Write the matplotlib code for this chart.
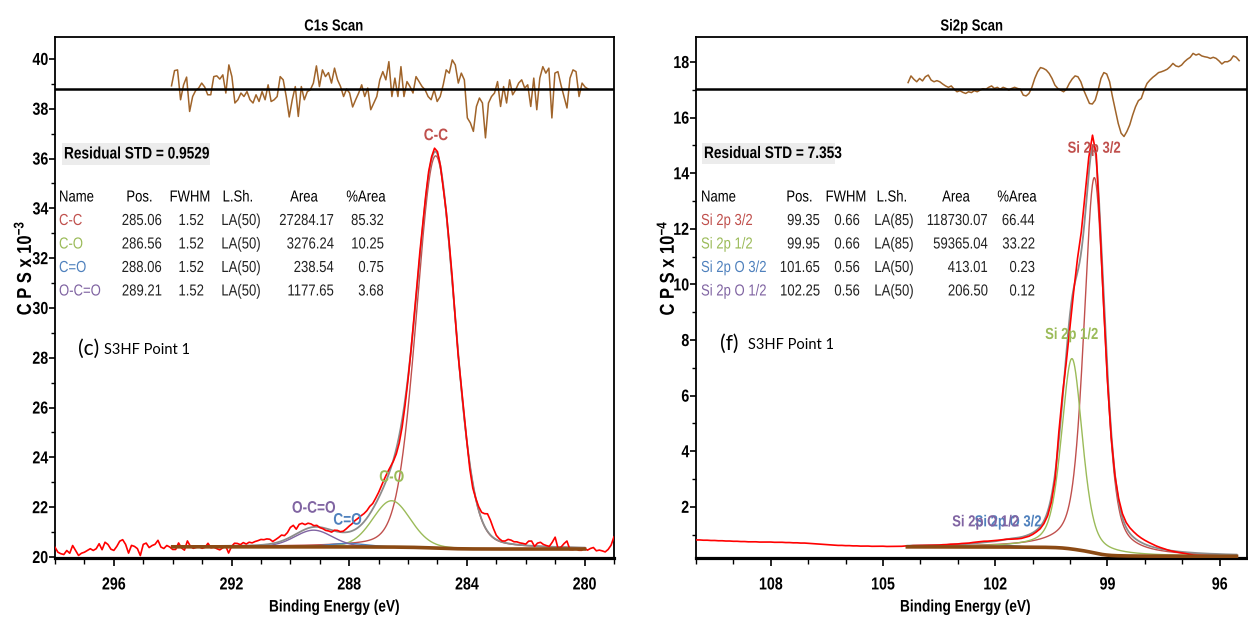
import numpy as np
import matplotlib
matplotlib.use("Agg")
import matplotlib.pyplot as plt
from matplotlib import font_manager
from matplotlib.patches import Rectangle
from matplotlib.patheffects import AbstractPathEffect
from matplotlib.transforms import Affine2D
from matplotlib.ticker import MultipleLocator

W, H = 1248, 619

# ── C1s fit (table values + peak heights, CPS x 1e-3) ──
c1s_names = ["C-C", "C-O", "C=O", "O-C=O"]
c1s_pos = [285.06, 286.56, 288.06, 289.21]
c1s_fwhm = [1.52, 1.52, 1.52, 1.52]
c1s_lsh = ["LA(50)", "LA(50)", "LA(50)", "LA(50)"]
c1s_area = [27284.17, 3276.24, 238.54, 1177.65]
c1s_pct = [85.32, 10.25, 0.75, 3.68]
c1s_height = [15.75, 1.86, 0.14, 0.67]
c1s_label_y = [36.92, 23.2, 21.48, 21.96]
c1s_region = (294.0, 280.0)
c1s_bg_ends = (20.41, 20.32)
c1s_zero = 38.8
c1s_std = "0.9529"

# measured spectrum minus fit envelope, 298.0 -> 279.0 eV in 0.1 eV steps
c1s_raw_minus_fit = [
    -0.03, -0.23, -0.29, -0.32, -0.16, -0.27, 0.04, -0.16, -0.36, -0.27,
    -0.23, -0.16, -0.09, -0.16, -0.09, 0.11, -0.13, 0.17, 0.08, -0.11,
    -0.16, 0.00, 0.21, 0.27, 0.08, -0.27, 0.04, 0.00, -0.09, -0.37,
    0.08, 0.13, -0.05, 0.03, 0.08, 0.24, -0.03, -0.09, 0.03, -0.03,
    -0.13, -0.13, 0.13, -0.07, -0.16, 0.21, 0.00, -0.09, -0.05, -0.03,
    -0.09, -0.05, 0.11, -0.07, -0.05, -0.11, -0.16, -0.08, 0.00, -0.29,
    -0.03, 0.10, 0.09, 0.04, 0.12, 0.06, 0.13, 0.10, 0.15, 0.18,
    0.22, 0.20, 0.22, 0.19, 0.08, 0.13, 0.18, 0.24, 0.17, 0.24,
    0.39, 0.41, 0.19, 0.32, 0.30, 0.19, 0.20, 0.14, 0.05, 0.06,
    -0.02, -0.04, -0.08, -0.07, -0.08, 0.03, 0.05, 0.02, 0.05, 0.14,
    0.23, 0.29, 0.36, 0.37, 0.37, 0.33, 0.30, 0.30, 0.22, 0.22,
    0.22, 0.25, 0.25, 0.21, 0.10, -0.05, -0.20, -0.30, -0.30, -0.20,
    -0.10, 0.00, 0.10, 0.15, 0.20, 0.10, 0.10, 0.15, 0.10, 0.15,
    0.10, 0.00, -0.10, 0.05, 0.10, 0.15, 0.00, -0.10, 0.05, 0.10,
    0.00, -0.20, -0.20, 0.00, 0.14, 0.28, 0.50, 0.70, 0.59, 0.37,
    0.17, 0.09, 0.04, 0.07, 0.16, 0.15, 0.10, 0.11, 0.08, 0.07,
    0.05, 0.18, 0.19, -0.02, 0.12, 0.16, 0.08, 0.04, 0.01, 0.18,
    0.39, -0.07, 0.00, 0.14, 0.25, -0.09, -0.09, -0.05, -0.11, -0.11,
    -0.03, -0.10, -0.03, 0.01, -0.12, -0.09, -0.12, -0.16, -0.06, 0.11,
    0.45,
]
c1s_raw_span = (298.0, 279.0)

# residual trace (top strip), 294.04 -> 279.88 eV
c1s_resid = [
    0.12, 0.73, 0.76, -0.44, 0.16, 0.47, -0.91, -0.31, -0.07, 0.03,
    0.23, 0.07, -0.24, -0.24, 0.49, 0.52, 0.39, 0.56, -0.17, 0.96,
    0.49, -0.57, -0.44, -0.17, -0.31, -0.11, -0.44, -0.57, -0.24, -0.51,
    -0.11, -0.44, 0.16, -0.51, -0.44, -0.31, 0.49, 0.36, -0.31, -1.13,
    -0.44, 0.09, -1.11, 0.09, -0.44, -0.11, -0.04, 0.23, 0.92, 0.09,
    0.76, 0.49, 0.65, 0.23, 0.83, 0.36, 0.09, -0.31, -0.01, -0.17,
    -0.73, -0.44, -0.17, 0.16, -0.31, 0.03, -0.84, -0.57, -0.31, 0.36,
    0.69, 0.36, 1.09, -0.31, 0.43, -0.31, 0.89, -0.31, 0.29, 0.09,
    -0.17, 0.49, 0.29, 0.09, -0.04, -0.31, -0.44, -0.04, -0.51, -0.31,
    0.16, 0.76, 0.63, 1.16, 0.96, 0.23, 0.63, 0.36, -1.17, -1.37,
    -1.71, -0.71, -0.37, -0.57, -1.97, -0.57, -0.31, -0.17, 0.29, -0.71,
    0.09, -0.57, 0.36, -0.24, -0.04, 0.23, 0.36, 0.03, 0.16, -0.71,
    0.43, -0.84, 0.43, 0.89, 0.63, 0.83, -1.17, 0.63, 0.69, 0.16,
    -0.31, -0.77, 0.43, 0.76, 0.69, -0.31, 0.23, 0.07, -0.01,
]
c1s_resid_span = (294.04, 279.88)

# ── Si2p fit (CPS x 1e-4) ──
si_names = ["Si 2p 3/2", "Si 2p 1/2", "Si 2p O 3/2", "Si 2p O 1/2"]
si_pos = [99.35, 99.95, 101.65, 102.25]
si_fwhm = [0.66, 0.66, 0.56, 0.56]
si_lsh = ["LA(85)", "LA(85)", "LA(50)", "LA(50)"]
si_area = [118730.07, 59365.04, 413.01, 206.50]
si_pct = [66.44, 33.22, 0.23, 0.12]
si_height = [13.5, 6.85, 0.055, 0.028]
si_label_y = [14.9, 8.2, 1.46, 1.46]
si_region = (104.35, 95.55)
si_bg_ends = (0.56, 0.22)
si_zero = 17.03
si_std = "7.353"

# measured spectrum minus fit envelope, 110.0 -> 95.9 eV in 0.1 eV steps
si_raw_minus_fit = [
    0.24, 0.24, 0.23, 0.23, 0.22, 0.22, 0.21, 0.21, 0.20, 0.20,
    0.19, 0.19, 0.18, 0.18, 0.17, 0.17, 0.17, 0.16, 0.16, 0.16,
    0.16, 0.15, 0.15, 0.15, 0.14, 0.14, 0.13, 0.13, 0.12, 0.12,
    0.11, 0.10, 0.09, 0.08, 0.07, 0.06, 0.05, 0.04, 0.03, 0.03,
    0.02, 0.02, 0.01, 0.01, 0.00, 0.00, 0.00, -0.01, -0.01, -0.01,
    -0.01, -0.02, -0.02, -0.02, -0.02, -0.02, -0.01, -0.01, 0.00, 0.00,
    0.00, 0.00, 0.00, 0.00, 0.00, 0.00, 0.01, 0.01, 0.02, 0.02,
    0.02, 0.03, 0.03, 0.03, 0.04, 0.04, 0.04, 0.04, 0.03, 0.03,
    0.03, 0.02, 0.01, 0.00, -0.02, -0.03, -0.04, -0.05, -0.05, -0.06,
    -0.06, -0.06, -0.08, -0.10, -0.15, -0.20, -0.20, 0.30, 0.20, -0.30,
    -0.45, -0.10, 0.50, 0.70, 0.80, 0.60, 0.40, 0.20, -0.30, -0.40,
    -0.35, -0.20, -0.05, 0.10, 0.15, 0.18, 0.20, 0.20, 0.18, 0.16,
    0.14, 0.12, 0.10, 0.07, 0.05, 0.03, 0.01, -0.01, -0.02, -0.03,
    -0.04, -0.05, -0.07, -0.08, -0.08, -0.08, -0.08, -0.08, -0.08, -0.08,
    -0.08, -0.08,
]
si_raw_span = (110.0, 95.9)

si_resid = [
    0.23, 0.47, 0.35, 0.26, 0.38, 0.29, 0.44, 0.50, 0.32, 0.26,
    0.30, 0.26, 0.18, 0.11, 0.06, 0.11, -0.01, -0.10, -0.06, -0.12,
    -0.16, -0.10, -0.13, -0.06, -0.10, -0.04, 0.01, -0.01, 0.06, 0.11,
    0.02, 0.06, -0.01, 0.06, 0.02, -0.04, 0.02, 0.06, 0.02, -0.01,
    -0.22, -0.25, -0.16, 0.06, 0.38, 0.62, 0.77, 0.74, 0.68, 0.56,
    0.38, 0.14, 0.02, -0.04, -0.10, -0.01, 0.20, 0.36, 0.47, 0.44,
    0.26, -0.04, -0.28, -0.52, -0.54, -0.40, -0.04, 0.38, 0.59, 0.54,
    0.26, -0.28, -0.76, -1.24, -1.59, -1.71, -1.53, -1.29, -0.94, -0.64,
    -0.42, -0.34, -0.04, 0.20, 0.32, 0.42, 0.50, 0.59, 0.62, 0.66,
    0.71, 0.80, 0.92, 0.83, 0.80, 0.86, 0.98, 1.07, 1.14, 1.28,
    1.22, 1.26, 1.19, 1.16, 1.14, 1.10, 1.14, 1.10, 1.01, 0.90,
    0.98, 0.98, 1.04, 1.19, 1.14, 1.02,
]
si_resid_span = (104.33, 95.48)

comp_colors = ["#c0504d", "#9bbb59", "#4f81bd", "#8064a2"]


def pick(cands):
    for name in cands:
        try:
            font_manager.findfont(font_manager.FontProperties(family=name),
                                  fallback_to_default=False)
            return name
        except Exception:
            pass
    return "DejaVu Sans"


# no Arial Narrow here: Liberation Sans squeezed horizontally stands in for it
BASE = pick(["Liberation Sans", "Arimo", "DejaVu Sans"])
CAL = pick(["Lato", "Open Sans", "DejaVu Sans"])
SQ = 0.82
plt.rcParams["font.family"] = [BASE, "DejaVu Sans"]
plt.rcParams["mathtext.fontset"] = "custom"
plt.rcParams["mathtext.rm"] = BASE + ":bold"
plt.rcParams["mathtext.default"] = "rm"


class Squeeze(AbstractPathEffect):
    """Compress glyphs along the baseline, about the text anchor."""

    def __init__(self, sx=SQ, anchor="left"):
        super().__init__()
        self.sx, self.anchor = sx, anchor

    def draw_path(self, renderer, gc, tpath, affine, rgbFace=None):
        ext = tpath.get_extents()
        if self.anchor == "right":
            x0 = ext.x1
        elif self.anchor == "center":
            x0 = 0.5 * (ext.x0 + ext.x1)
        else:
            x0 = 0.0
        t = Affine2D().translate(-x0, 0).scale(self.sx, 1).translate(x0, 0)
        renderer.draw_path(gc, tpath, t + affine, rgbFace)


def peak(x, pos, fwhm, h, eta):
    u = (x - pos) / fwhm
    return h * ((1 - eta) * np.exp(-4 * np.log(2) * u ** 2) + eta / (1 + 4 * u ** 2))


def shirley(x, signal, b_hi, b_lo):
    # x runs from high to low binding energy
    xs, s = x[::-1], signal[::-1]
    cum = np.concatenate([[0], np.cumsum(0.5 * (s[1:] + s[:-1]) * np.diff(xs))])
    return (b_lo + (b_hi - b_lo) * cum / cum[-1])[::-1]


def draw_spectrum(ax, pos, fwhm, heights, eta, region, bg_ends, raw_span, raw_dev,
                  resid, resid_span, zero):
    x_fit = np.linspace(region[0], region[1], 1401)
    comps = [peak(x_fit, p, f, h, eta) for p, f, h in zip(pos, fwhm, heights)]
    total = np.sum(comps, axis=0)
    bg = shirley(x_fit, total, *bg_ends)

    raw_x = np.linspace(raw_span[0], raw_span[1], len(raw_dev))
    raw_fit = np.interp(raw_x, x_fit[::-1], bg[::-1])
    for p, f, h in zip(pos, fwhm, heights):
        raw_fit = raw_fit + peak(raw_x, p, f, h, eta)
    raw = raw_fit + np.array(raw_dev)

    for c, col in zip(comps, comp_colors):
        ax.plot(x_fit, bg + c, color=col, lw=1.0, zorder=2)
    ax.plot(x_fit, bg + total, color="#8c8c8c", lw=1.3, zorder=3)
    ax.plot(raw_x, raw, color="#ff0000", lw=1.2, zorder=4)
    ax.plot(x_fit, bg, color="#8b4a14", lw=2.6, zorder=5)

    rx = np.linspace(resid_span[0], resid_span[1], len(resid))
    ax.plot(rx, zero + np.array(resid), color="#a0642a", lw=1.1, zorder=3)
    ax.axhline(zero, color="black", lw=1.8, zorder=6)


def style_axes(ax, xlim, ylim, xmaj, ymaj):
    ax.set_xlim(*xlim)
    ax.set_ylim(*ylim)
    ax.xaxis.set_major_locator(MultipleLocator(xmaj))
    ax.xaxis.set_minor_locator(MultipleLocator(1))
    ax.yaxis.set_major_locator(MultipleLocator(ymaj))
    ax.yaxis.set_minor_locator(MultipleLocator(1))
    for s in ["left", "top", "right"]:
        ax.spines[s].set_linewidth(1.3)
    ax.spines["bottom"].set_linewidth(2.3)
    ax.tick_params(axis="x", which="major", direction="out", length=5.5, width=1.2,
                   labelsize=12.5, pad=8.5)
    ax.tick_params(axis="x", which="minor", direction="out", length=4.5, width=1.0)
    ax.tick_params(axis="y", which="major", direction="out", length=4.5, width=1.2,
                   labelsize=12.5, pad=0.3)
    ax.tick_params(axis="y", which="minor", direction="out", length=3, width=1.0)
    for lab in ax.get_xticklabels():
        lab.set_fontweight("bold")
        lab.set_path_effects([Squeeze(SQ, "center")])
    for lab in ax.get_yticklabels():
        lab.set_fontweight("bold")
        lab.set_path_effects([Squeeze(SQ, "right")])


def ftext(x, y, s, ha="left", squeeze=True, **kw):
    t = fig.text(x / W, 1 - y / H, s, ha=ha, **kw)
    if squeeze:
        t.set_path_effects([Squeeze(SQ, ha)])
    return t


def fit_table(x_name, cols, names, pos, fwhm, lsh, area, pct, std, std_box):
    bx0, by0, bx1, by1 = std_box
    fig.add_artist(Rectangle((bx0 / W, 1 - by1 / H), (bx1 - bx0) / W, (by1 - by0) / H,
                             transform=fig.transFigure, fc="#ececec", ec="none"))
    ftext(bx0 + 2, 0.5 * (by0 + by1), f"Residual STD = {std}", fontsize=12,
          fontweight="bold", va="center")
    y_head, y_rows = 197, [220.5, 244, 267.5, 291]
    ftext(x_name, y_head, "Name", fontsize=11.5, va="center")
    heads = ["Pos.", "FWHM", "L.Sh.", "Area", "%Area"]
    for (hx, vx, vha), head in zip(cols, heads):
        ftext(hx, y_head, head, ha="center", fontsize=11.5, va="center")
    for k in range(len(names)):
        y = y_rows[k]
        ftext(x_name, y, names[k], fontsize=11.5, color=comp_colors[k], va="center")
        vals = [f"{pos[k]:.2f}", f"{fwhm[k]:.2f}", lsh[k], f"{area[k]:.2f}", f"{pct[k]:.2f}"]
        for (hx, vx, vha), v in zip(cols, vals):
            ftext(vx, y, v, ha=vha, fontsize=11.5, va="center", color="#222222")


fig = plt.figure(figsize=(W / 100, H / 100), dpi=100)
axL = fig.add_axes([55 / W, 1 - 558 / H, (614 - 55) / W, (558 - 37) / H])
axR = fig.add_axes([696 / W, 1 - 558 / H, (1247 - 696) / W, (558 - 37) / H])

# ── C1s ──
draw_spectrum(axL, c1s_pos, c1s_fwhm, c1s_height, 0.15, c1s_region, c1s_bg_ends,
              c1s_raw_span, c1s_raw_minus_fit, c1s_resid, c1s_resid_span, c1s_zero)
style_axes(axL, (298.0, 279.0), (19.96, 40.88), 4, 2)
for name, p, y, col in zip(c1s_names, c1s_pos, c1s_label_y, comp_colors):
    t = axL.text(p, y, name, color=col, fontsize=12, fontweight="bold",
                 ha="center", va="center", zorder=7)
    t.set_path_effects([Squeeze(SQ, "center")])

# ── Si2p ──
draw_spectrum(axR, si_pos, si_fwhm, si_height, 0.45, si_region, si_bg_ends,
              si_raw_span, si_raw_minus_fit, si_resid, si_resid_span, si_zero)
style_axes(axR, (110.0, 95.27), (0.16, 18.9), 3, 2)
for name, p, y, col in zip(si_names, si_pos, si_label_y, comp_colors):
    t = axR.text(p, y, name, color=col, fontsize=11.5, fontweight="bold",
                 ha="center", va="center", zorder=7)
    t.set_path_effects([Squeeze(SQ, "center")])

# titles, axis labels
ftext(334, 26, "C1s Scan", ha="center", fontsize=11.5, fontweight="bold", va="center")
ftext(972, 26, "Si2p Scan", ha="center", fontsize=11.5, fontweight="bold", va="center")
ftext(334, 607, "Binding Energy (eV)", ha="center", fontsize=12, fontweight="bold",
      va="center")
ftext(965, 607, "Binding Energy (eV)", ha="center", fontsize=12, fontweight="bold",
      va="center")
ftext(24, 268, "C P S x 10$^{-3}$", ha="center", fontsize=14.5, fontweight="bold",
      rotation=90, va="center")
ftext(667, 268, "C P S x 10$^{-4}$", ha="center", fontsize=14.5, fontweight="bold",
      rotation=90, va="center")

# fit tables
fit_table(59, [(139.5, 162, "right"), (190, 204, "right"), (238, 241, "center"),
               (304, 334, "right"), (366, 384, "right")],
          c1s_names, c1s_pos, c1s_fwhm, c1s_lsh, c1s_area, c1s_pct, c1s_std,
          (62, 143, 210, 165))
fit_table(701, [(799.5, 820, "right"), (846, 860, "right"), (892, 894, "center"),
                (956, 988, "right"), (1017, 1035, "right")],
          si_names, si_pos, si_fwhm, si_lsh, si_area, si_pct, si_std,
          (702, 143, 835, 164))

# sample tags
ftext(78, 349, "(c)", fontsize=15, family=CAL, va="center", squeeze=False)
ftext(104, 350, "S3HF Point 1", fontsize=10.5, family=CAL, va="center", squeeze=False)
ftext(720, 344, "(f)", fontsize=15, family=CAL, va="center", squeeze=False)
ftext(748, 345, "S3HF Point 1", fontsize=10.5, family=CAL, va="center", squeeze=False)

fig.savefig("out.png", dpi=100)
